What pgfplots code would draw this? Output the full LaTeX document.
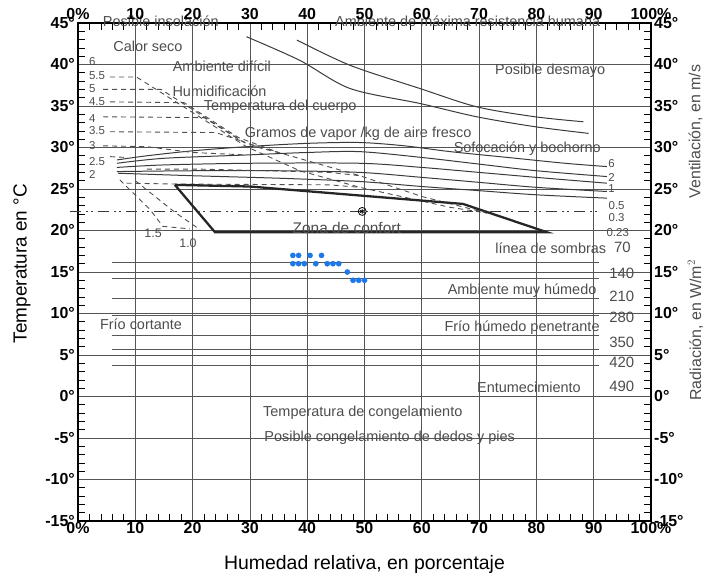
\documentclass[border=0pt]{standalone}
\usepackage{fontspec}
\setmainfont{Liberation Sans}
\usepackage{pgfplots}
\pgfplotsset{compat=1.18}
\definecolor{txt}{HTML}{4D4D4D}
\definecolor{ln}{HTML}{3A3A3A}
\definecolor{grd}{HTML}{555555}
\definecolor{dotblue}{RGB}{28,120,232}
\begin{document}
\begin{tikzpicture}
\useasboundingbox (-78bp,-57bp) rectangle (628bp,521bp);
\begin{axis}[
  at={(0,0)}, anchor=south west, scale only axis,
  width=573bp, height=498bp,
  xmin=0, xmax=100, ymin=-15, ymax=45,
  clip=false,
  axis line style={line width=1.6pt, black},
  xtick={0,10,...,100}, ytick={-15,-10,...,45},
  xticklabels={0\%,10,20,30,40,50,60,70,80,90,100\%},
  yticklabels={-15°,-10°,-5°,0°,5°,10°,15°,20°,25°,30°,35°,40°,45°},
  minor x tick num=4, minor y tick num=4,
  major tick length=0pt, minor tick length=7bp,
  tick align=inside, tick style={line width=0.8pt, black},
  grid=major, major grid style={grd, line width=0.7pt},
  xticklabel style={font=\fontsize{16}{18}\selectfont\bfseries, inner sep=1pt},
  yticklabel style={font=\fontsize{16}{18}\selectfont\bfseries, inner sep=3pt},
]
% radiation lines
\foreach \t in {16.2,14.2,11.8,9.8,7.4,5.7,3.7}{
  \edef\temp{\noexpand\addplot[ln!85, line width=0.8pt] coordinates {(6,\t) (91,\t)};}
  \temp
}
% upper curves
\addplot[ln, line width=1pt, smooth] coordinates {(38.2,42.95) (47.5,39.9) (59.7,37.1) (69.6,34.9) (79.8,33.7) (88.2,33.1)};
\addplot[ln, line width=1pt, smooth] coordinates {(29.4,43.35) (38.7,40.5) (47.5,37.1) (59.7,35.3) (69.6,33.7) (79.8,32.5) (89.1,31.7)};
% ventilation lines
\addplot[ln, line width=1pt, smooth] coordinates {(6.8,28.5) (12,29.0) (20,29.6) (29.4,30.1) (40,30.5) (49.2,30.6) (57,30.2) (65,29.5) (75,28.8) (85,28.1) (92.3,27.7)};
\addplot[ln, line width=1pt, smooth] coordinates {(6.8,28.1) (15,28.7) (29.4,29.1) (40,29.4) (49.2,29.5) (60,28.8) (70,28.0) (80,27.2) (92.3,26.5)};
\addplot[ln, line width=1pt, smooth] coordinates {(6.8,27.6) (15,27.9) (30,28.1) (49.2,28.1) (60,27.6) (70,27.0) (80,26.4) (92.3,25.7)};
\addplot[ln, line width=1pt, smooth] coordinates {(6.8,27.1) (20,27.2) (35,27.2) (49.2,27.0) (60,26.4) (70,25.8) (80,25.2) (92.3,24.7)};
\addplot[ln, line width=1pt, smooth] coordinates {(7,26.9) (20,26.6) (35,26.3) (49.2,25.9) (60,25.3) (70,24.8) (80,24.3) (92.3,23.9)};
% evaporative dashed lines
\pgfplotsset{evap/.style={ln!90, line width=0.9pt, dash pattern=on 5bp off 4bp}}
\addplot[evap] coordinates {(5.6,38.5) (10.2,38.5) (29.4,30.1) (38.7,27.2) (49.2,25.2) (64.9,22.8) (71.4,22.1)};
\addplot[evap] coordinates {(4.4,37.0) (14.5,37.0) (29,30.6) (35,29.4) (49.2,26.6) (60,24.1) (71.4,22.1)};
\addplot[evap] coordinates {(5.6,35.5) (18.5,35.4) (28,31.2) (35,29.4)};
\addplot[evap] coordinates {(4.4,33.7) (22,33.6) (28.5,30.8) (32,29.9) (35,29.4)};
\addplot[evap] coordinates {(5.6,31.9) (24,31.8) (28.5,30.8)};
\addplot[evap] coordinates {(4.4,30.2) (12,30.1) (20,29.4) (29.4,29.1)};
\addplot[evap] coordinates {(5.6,28.9) (8.5,28.8)};
\addplot[evap] coordinates {(8.5,25.7) (17,25.6) (44,25.5) (49.2,25.2)};
\addplot[evap] coordinates {(12,27.4) (21,27.4) (44,27.0) (49.2,26.6)};
\addplot[evap] coordinates {(7.3,26.1) (12.6,22.5) (14.8,20.5) (19.5,20.2)};
\addplot[evap] coordinates {(10,26.0) (16.9,22.2) (21.3,20.1)};
% comfort zone
\addplot[black!85, line width=2.3pt] coordinates {(16.9,25.5) (30,25.3) (67.2,23.2) (81.8,19.8) (23.9,19.8) (16.9,25.5)};
% dash-dot line
\addplot[ln, line width=1.5pt, dash pattern=on 11bp off 5bp on 2bp off 3bp on 2bp off 5bp] coordinates {(-1.4,22.3) (91,22.3)};
\addplot[black, only marks, mark=o, mark size=4pt, line width=0.8pt] coordinates {(49.6,22.3)};
\addplot[black, only marks, mark=asterisk, mark size=2.4pt, line width=0.7pt] coordinates {(49.6,22.3)};
% blue data points
\addplot[only marks, mark=*, mark size=2.6pt, color=dotblue] coordinates {
(37.5,17) (38.5,17) (40.5,17) (42.5,17)
(37.5,16) (38.5,16) (39.5,16) (41.5,16) (43.5,16) (44.5,16) (45.5,16)
(47,15)
(48,14) (49,14) (50,14)};
% texts
\begin{scope}[every node/.style={text=txt, font=\fontsize{14.5}{16}\selectfont, inner sep=0pt}]
\node at (axis cs:14.45,45.25) {Posible insolación};
\node at (axis cs:68,45.25) {Ambiente de máxima resistencia humana};
\node at (axis cs:12.2,42.2) {Calor seco};
\node at (axis cs:25.1,39.8) {Ambiente difícil};
\node at (axis cs:24.7,36.8) {Humidificación};
\node at (axis cs:35.3,34.9) {Temperatura del cuerpo};
\node at (axis cs:48.9,31.7) {Gramos de vapor /kg de aire fresco};
\node at (axis cs:82.4,39.2) {Posible desmayo};
\node at (axis cs:78.4,29.9) {Sofocación y bochorno};
\node[font=\fontsize{15.5}{17}\selectfont] at (axis cs:46.9,20.3) {Zona de confort};
\node at (axis cs:82.5,17.9) {línea de sombras};
\node[font=\fontsize{15}{17}\selectfont] at (axis cs:95,18.0) {70};
\node at (axis cs:77.5,12.8) {Ambiente muy húmedo};
\node at (axis cs:77.5,8.3) {Frío húmedo penetrante};
\node at (axis cs:11,8.7) {Frío cortante};
\node at (axis cs:78.7,1.1) {Entumecimiento};
\node at (axis cs:49.7,-2.0) {Temperatura de congelamiento};
\node at (axis cs:54.4,-5.0) {Posible congelamiento de dedos y pies};
\end{scope}
\begin{scope}[every node/.style={text=txt, font=\fontsize{15}{17}\selectfont, inner sep=0pt}]
\node at (axis cs:94.9,14.84) {140};
\node at (axis cs:94.9,12.02) {210};
\node at (axis cs:94.9,9.54) {280};
\node at (axis cs:94.9,6.48) {350};
\node at (axis cs:94.9,4.07) {420};
\node at (axis cs:94.9,1.18) {490};
\end{scope}
\begin{scope}[every node/.style={text=txt, font=\fontsize{11.5}{13}\selectfont, inner sep=0pt}]
\node at (axis cs:93.1,28.1) {6};
\node at (axis cs:93.1,26.4) {2};
\node at (axis cs:93.1,25.0) {1};
\node at (axis cs:94.0,22.95) {0.5};
\node at (axis cs:94.0,21.5) {0.3};
\node at (axis cs:94.2,19.8) {0.23};
\node[anchor=west] at (axis cs:1.9,40.3) {6};
\node[anchor=west] at (axis cs:1.9,38.7) {5.5};
\node[anchor=west] at (axis cs:1.9,37.1) {5};
\node[anchor=west] at (axis cs:1.9,35.5) {4.5};
\node[anchor=west] at (axis cs:1.9,33.5) {4};
\node[anchor=west] at (axis cs:1.9,32.0) {3.5};
\node[anchor=west] at (axis cs:1.9,30.2) {3};
\node[anchor=west] at (axis cs:1.9,28.3) {2.5};
\node[anchor=west] at (axis cs:1.9,26.7) {2};
\node[font=\fontsize{12.5}{14}\selectfont] at (axis cs:13.1,19.7) {1.5};
\node[font=\fontsize{12.5}{14}\selectfont] at (axis cs:19.2,18.5) {1.0};
\end{scope}
% axis titles
\node[font=\fontsize{19.5}{22}\selectfont] at (rel axis cs:0.5,-0.0863) {Humedad relativa, en porcentaje};
\node[font=\fontsize{19}{22}\selectfont, rotate=90] at (rel axis cs:-0.0977,0.517) {Temperatura en °C};
\node[text=txt, font=\fontsize{16}{18}\selectfont, rotate=90, inner sep=0pt] at (rel axis cs:1.0775,0.782) {Ventilación, en m/s};
\node[text=txt, font=\fontsize{16}{18}\selectfont, rotate=90, inner sep=0pt] at (rel axis cs:1.0775,0.383) {Radiación, en W/m$^2$};
\end{axis}
\begin{axis}[
  at={(0,0)}, anchor=south west, scale only axis,
  width=573bp, height=498bp,
  xmin=0, xmax=100, ymin=-15, ymax=45,
  axis line style={draw=none}, tick style={draw=none},
  xtick={0,10,...,100}, ytick={-15,-10,...,45},
  xticklabels={0\%,10,20,30,40,50,60,70,80,90,100\%},
  yticklabels={-15°,-10°,-5°,0°,5°,10°,15°,20°,25°,30°,35°,40°,45°},
  xticklabel pos=upper, yticklabel pos=right,
  xticklabel style={font=\fontsize{16}{18}\selectfont\bfseries, inner sep=1pt, yshift=2bp},
  yticklabel style={font=\fontsize{16}{18}\selectfont\bfseries, inner sep=3pt},
]
\end{axis}
\end{tikzpicture}
\end{document}
